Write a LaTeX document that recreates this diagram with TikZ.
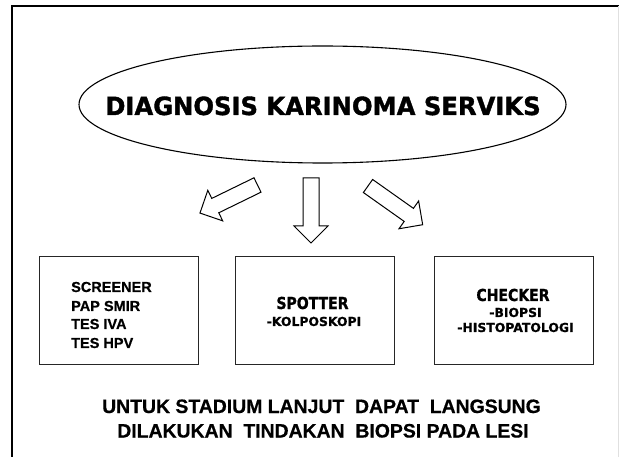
\documentclass[tikz,border=0pt]{standalone}
\usepackage{fontspec}
\usetikzlibrary{shapes.geometric}
\newfontfamily\arialf{Liberation Sans Bold}[FakeBold=0.6]
\newfontfamily\verdf{DejaVu Sans Bold}[FakeBold=0.8]
\newfontfamily\titlef{DejaVu Sans Bold}[FakeBold=1.4, FakeStretch=0.97]
\newfontfamily\tahof{DejaVu Sans Bold}[FakeStretch=0.85, FakeBold=1]
\newcommand{\myblockarrow}[3]{%
  \draw[barrow,shift={#1},rotate=#2] (0,-8) -- ({#3-17},-8) -- ({#3-17},-17) -- (#3,0) -- ({#3-17},17) -- ({#3-17},8) -- (0,8) -- cycle;}
\begin{document}
\begin{tikzpicture}[x=1pt,y=-1pt,
  barrow/.style={draw=black, line width=1pt, fill=white, line join=miter},
  boxnode/.style={draw=black!85, line width=0.9pt, minimum width=159pt, minimum height=108pt, inner sep=0pt},
  boxtxt/.style={inner sep=0pt, font=\arialf\fontsize{14.5}{16}\selectfont, anchor=base west},
  headtxt/.style={inner sep=0pt, font=\tahof\fontsize{16.5}{18}\selectfont, anchor=base},
  subtxt/.style={inner sep=0pt, font=\verdf\fontsize{12.4}{14}\selectfont, anchor=base}]
\useasboundingbox (0,0) rectangle (619,457);
\fill[white] (0,0) rectangle (619,457);
% frame
\draw[line width=2pt] (12,457) -- (12,6) -- (620,6);
\draw[black!12, line width=0.8pt] (618.5,6) -- (618.5,457);
% title ellipse
\node[ellipse, draw=black, line width=1.1pt, minimum width=487pt, minimum height=117pt, inner sep=0pt] (title) at (322.5,104.5) {};
\node[inner sep=0pt, anchor=base, font=\titlef\fontsize{25}{30}\selectfont] (titletxt) at (323,115) {DIAGNOSIS KARINOMA SERVIKS};
% block arrows
\myblockarrow{(257.5,185)}{206}{64}
\myblockarrow{(311,178)}{-90}{65}
\myblockarrow{(368,186)}{-35.3}{67}
% boxes
\node[boxnode] (screener) at (118.5,310) {};
\node[boxnode] (spotter) at (314.5,310) {};
\node[boxnode] (checker) at (513.5,310) {};
% box 1 text
\node[boxtxt] (s1) at (71,292) {SCREENER};
\node[boxtxt] (s2) at (71,311) {PAP SMIR};
\node[boxtxt] (s3) at (71,329) {TES IVA};
\node[boxtxt] (s4) at (71,348) {TES HPV};
% box 2 text
\node[headtxt] (sp1) at (312.5,309) {SPOTTER};
\node[subtxt] (sp2) at (314,326) {-KOLPOSKOPI};
% box 3 text
\node[headtxt] (c1) at (513,301) {CHECKER};
\node[subtxt] (c2) at (515.5,317) {-BIOPSI};
\node[subtxt] (c3) at (515.5,332) {-HISTOPATOLOGI};
% bottom text
\node[inner sep=0pt, anchor=base, font=\arialf\fontsize{19.4}{22}\selectfont] (note1) at (321.5,413) {UNTUK STADIUM LANJUT \ DAPAT \ LANGSUNG};
\node[inner sep=0pt, anchor=base, font=\arialf\fontsize{19.4}{22}\selectfont] (note2) at (323,437.5) {DILAKUKAN \ TINDAKAN \ BIOPSI PADA LESI};
\end{tikzpicture}
\end{document}
